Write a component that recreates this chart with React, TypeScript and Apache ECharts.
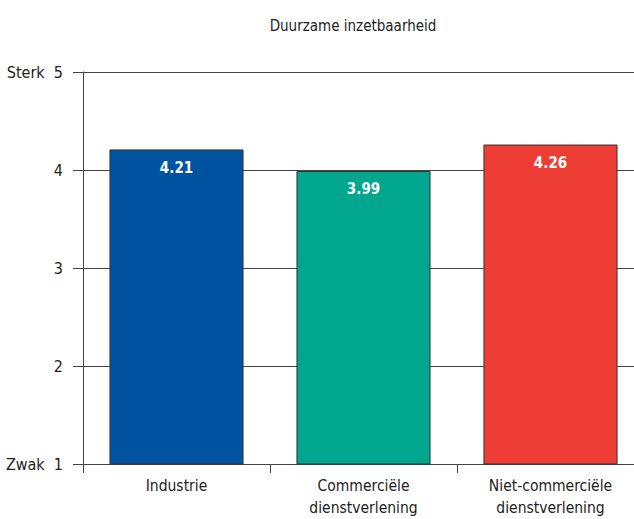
import React, { useEffect, useRef } from "react";
import * as echarts from "echarts";

const categories = ["Industrie", "Commerciële\ndienstverlening", "Niet-commerciële\ndienstverlening"];
const values = [4.21, 3.99, 4.26];
const barColors = ["#0053A0", "#00A78E", "#EE3D35"];
const yTickLabels: Record<number, string> = { 1: "Zwak  1", 2: "2", 3: "3", 4: "4", 5: "Sterk  5" };

const FONT = "'Liberation Sans Narrow', 'DejaVu Sans Condensed', 'Roboto Condensed', sans-serif";

export default function App() {
  const ref = useRef<HTMLDivElement>(null);
  useEffect(() => {
    if (!ref.current) return;
    const chart = echarts.init(ref.current, null, { renderer: "svg" });
    chart.setOption({
      animation: false,
      backgroundColor: "#ffffff",
      title: {
        text: "Duurzame inzetbaarheid",
        left: 348,
        textAlign: "center",
        top: 13,
        textStyle: { fontFamily: FONT, fontSize: 15, fontWeight: "normal", color: "#222" },
      },
      grid: {
        left: 83,
        right: -10,
        top: 72,
        bottom: 55,
        containLabel: false,
        outerBoundsMode: "none",
      },
      xAxis: {
        type: "category",
        data: categories,
        axisLine: { lineStyle: { color: "#444", width: 1 } },
        axisTick: { show: true, length: 9, lineStyle: { color: "#444" } },
        axisLabel: { fontFamily: FONT, fontSize: 15.5, color: "#222", margin: 11, lineHeight: 22 },
      },
      yAxis: {
        type: "value",
        min: 1,
        max: 5,
        interval: 1,
        axisLine: { show: true, lineStyle: { color: "#444", width: 1 } },
        axisTick: { show: true, length: 10, lineStyle: { color: "#444" } },
        splitLine: { show: true, lineStyle: { color: "#444", width: 1 } },
        axisLabel: {
          fontFamily: FONT,
          fontSize: 16,
          color: "#222",
          margin: 20,
          formatter: (v: number) => yTickLabels[v] ?? String(v),
        },
      },
      series: [
        {
          type: "bar",
          barWidth: "71.7%",
          data: values.map((v, i) => ({
            value: v,
            itemStyle: { color: barColors[i], borderColor: "#333", borderWidth: 1 },
          })),
          label: {
            show: true,
            position: "insideTop",
            distance: 11,
            formatter: (p: any) => p.value.toFixed(2),
            fontFamily: FONT,
            fontSize: 15,
            fontWeight: "bold",
            color: "#fff",
          },
        },
      ],
    });
    return () => chart.dispose();
  }, []);
  return <div ref={ref} style={{ position: "absolute", left: 0, top: 0, width: 634, height: 519 }} />;
}
